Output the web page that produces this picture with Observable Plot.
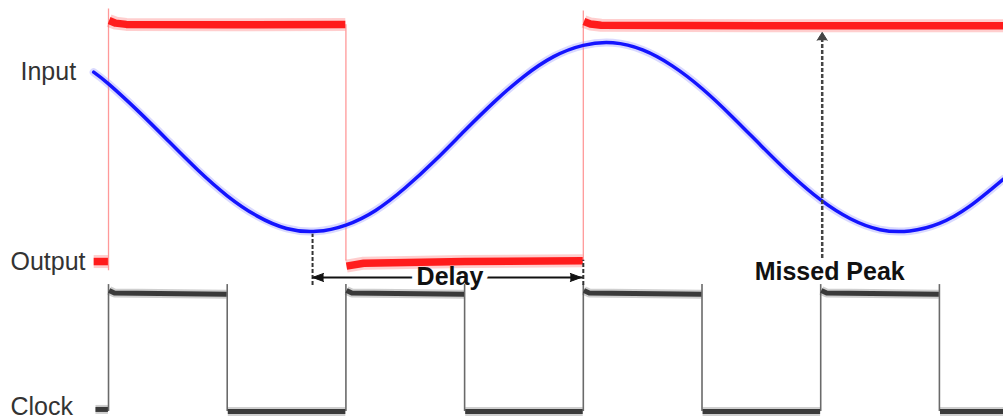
<!DOCTYPE html>
<html><head><meta charset="utf-8">
<script src="https://cdn.jsdelivr.net/npm/d3@7"></script>
<script src="https://cdn.jsdelivr.net/npm/@observablehq/plot@0.6"></script>
<style>html,body{margin:0;padding:0;background:#fff}#chart svg{display:block}</style>
</head><body><div id="chart"></div>
<script>
// time axis in clock half-periods (clock edges at 0,1,2,...), levels in arbitrary units 0..100
const inputTimes  = [-0.125,0,0.25,0.5,0.75,1,1.25,1.5,1.75,2,2.25,2.5,2.75,3,3.25,3.5,3.75,4,4.25,4.5,4.75,5,5.25,5.5,5.75,6,6.25,6.5,6.75,7,7.25,7.54];
const inputLevels = [82.9,80.1,73.6,66.6,59.6,53.4,48.6,45.6,44.9,46.4,49.9,55.3,61.8,68.9,75.8,81.9,86.6,89.3,89.9,88.2,84.4,79.0,72.4,65.3,58.4,52.4,47.9,45.3,45.0,46.8,50.8,57.4];

const outputTimes    = [-0.125,-0.005, 0.005,0.06,0.15,1.0,1.995, 2.005,2.15,3.0,3.995, 4.005,4.06,4.15,5.5,7.54];
const outputLevels   = [37.7,37.7, 95.2,94.6,94.3,94.2,94.3, 36.6,37.3,37.7,37.9, 95.0,94.4,94.1,94.0,94.0];
const outputSegments = [0,0, 1,1,1,1,1, 2,2,2,2, 3,3,3,3,3];
const outputEdges    = [0, 2, 4];
const outputEdgeLow  = [35.5, 37.8, 37.9];
const outputEdgeHigh = [98.0, 94.2, 97.5];

const clockTimes    = [-0.11,-0.005, 0.005,0.05,0.995, 1.005,1.995, 2.005,2.05,2.995, 3.005,3.995, 4.005,4.05,4.995, 5.005,5.995, 6.005,6.05,6.995, 7.005,7.54];
const clockLevels   = [2.4,2.4, 30.8,30.2,29.9, 1.9,1.9, 30.8,30.2,29.9, 1.9,1.9, 30.8,30.2,29.9, 1.9,1.9, 30.8,30.2,29.9, 1.9,1.9];
const clockSegments = [0,0, 1,1,1, 2,2, 3,3,3, 4,4, 5,5,5, 6,6, 7,7,7, 8,8];
const clockEdges = [0,1,2,3,4,5,6,7];
const clockLow = 1.9, clockPeak = 32.2;

const traceLabels = ["Input", "Output", "Clock"];
const delayStart = 1.719, delayEnd = 4, delayLevel = 33.9, delayTickLow = 32.0;
const delayStartTop = 44.2, delayEndTop = 38.0;
const missedTime = 6, missedBottom = 38.4, missedTip = 92.4;
const annotationTexts = ["Delay", "Missed Peak"];

const input  = inputTimes.map((t, i) => ({t, v: inputLevels[i]}));
const output = outputTimes.map((t, i) => ({t, v: outputLevels[i], s: outputSegments[i]}));
const clock  = clockTimes.map((t, i) => ({t, v: clockLevels[i], s: clockSegments[i]}));
const outEdges = outputEdges.map((t, i) => ({t, lo: outputEdgeLow[i], hi: outputEdgeHigh[i]}));

const labelFont = {fontFamily: "Liberation Sans, Arial, sans-serif", fontSize: 25, fill: "#333", textAnchor: "start", frameAnchor: "left"};
const boldFont = {fontFamily: "Liberation Sans, Arial, sans-serif", fontSize: 25, fontWeight: "bold"};
const delayText = {text: d => d, x: (delayStart + delayEnd) / 2, y: delayLevel, dx: 2};

const chart = Plot.plot({
  width: 1003, height: 419,
  marginLeft: 0, marginRight: 0, marginTop: 0, marginBottom: 0,
  x: {domain: [-0.91, 7.54], axis: null},
  y: {domain: [0, 100], axis: null},
  style: {background: "#fff", overflow: "visible"},
  marks: [
    // delay arrow line with a white gap for its label
    Plot.link([0], {x1: delayStart, x2: delayEnd, y1: delayLevel, y2: delayLevel, stroke: "#111", strokeWidth: 2}),
    Plot.text([annotationTexts[0]], {...delayText, ...boldFont, fill: "white", stroke: "white", strokeWidth: 12}),
    // output thin transition edges (with overshoot spikes)
    Plot.ruleX(outEdges, {x: "t", y1: "lo", y2: "hi", stroke: "#ff9999", strokeWidth: 1.3}),
    // clock thin edges
    Plot.ruleX(clockEdges, {x: d => d, y1: clockLow, y2: clockPeak, stroke: "#6a6a6a", strokeWidth: 1.6}),
    // clock levels
    Plot.line(clock, {x: "t", y: "v", z: "s", stroke: "#606060", strokeWidth: 9, strokeOpacity: 0.3, strokeLinecap: "butt"}),
    Plot.line(clock, {x: "t", y: "v", z: "s", stroke: "#3a3a3a", strokeWidth: 5, strokeLinecap: "butt"}),
    // output levels
    Plot.line(output, {x: "t", y: "v", z: "s", stroke: "#ff5050", strokeWidth: 13, strokeOpacity: 0.28, strokeLinecap: "butt"}),
    Plot.line(output, {x: "t", y: "v", z: "s", stroke: "#ff1c1c", strokeWidth: 7.5, strokeLinecap: "butt"}),
    // input sine
    Plot.line(input, {x: "t", y: "v", curve: "natural", stroke: "#a0a0ff", strokeWidth: 8, strokeOpacity: 0.4}),
    Plot.line(input, {x: "t", y: "v", curve: "natural", stroke: "#1414ff", strokeWidth: 3.5}),
    // trace labels
    Plot.text([traceLabels[0]], {text: d => d, y: inputLevels[0], dx: 20, ...labelFont}),
    Plot.text([traceLabels[1]], {text: d => d, y: outputLevels[0], dx: 10, ...labelFont}),
    Plot.text([traceLabels[2]], {text: d => d, y: clockLevels[0], dx: 10, dy: -2, ...labelFont}),
    // delay annotation
    Plot.ruleX([delayStart], {x: d => d, y1: delayTickLow, y2: delayStartTop, stroke: "#333", strokeWidth: 2, strokeDasharray: "4,2"}),
    Plot.ruleX([delayEnd], {x: d => d, y1: delayTickLow, y2: delayEndTop, stroke: "#333", strokeWidth: 2, strokeDasharray: "4,2"}),
    Plot.vector([delayStart], {x: d => d, y: delayLevel, rotate: -90, length: 11, r: 4, shape: "spike", anchor: "end", fill: "#111", stroke: "#111", strokeWidth: 1}),
    Plot.vector([delayEnd], {x: d => d, y: delayLevel, rotate: 90, length: 11, r: 4, shape: "spike", anchor: "end", fill: "#111", stroke: "#111", strokeWidth: 1, dx: -2}),
    Plot.text([annotationTexts[0]], {...delayText, ...boldFont, fill: "#111"}),
    // missed peak annotation
    Plot.ruleX([missedTime], {x: d => d, y1: missedBottom, y2: missedTip - 1.9, stroke: "#444", strokeWidth: 2.5, strokeDasharray: "4,2", dx: 1.5}),
    Plot.vector([missedTime], {x: d => d, y: missedTip, rotate: 0, length: 8, r: 5, shape: "spike", anchor: "end", fill: "#444", stroke: "#444", strokeWidth: 1, dx: 1.5}),
    Plot.text([annotationTexts[1]], {text: d => d, x: missedTime, y: 35.25, dx: 9, ...boldFont, fill: "#111"})
  ]
});
document.getElementById("chart").append(chart);
</script>
</body></html>
